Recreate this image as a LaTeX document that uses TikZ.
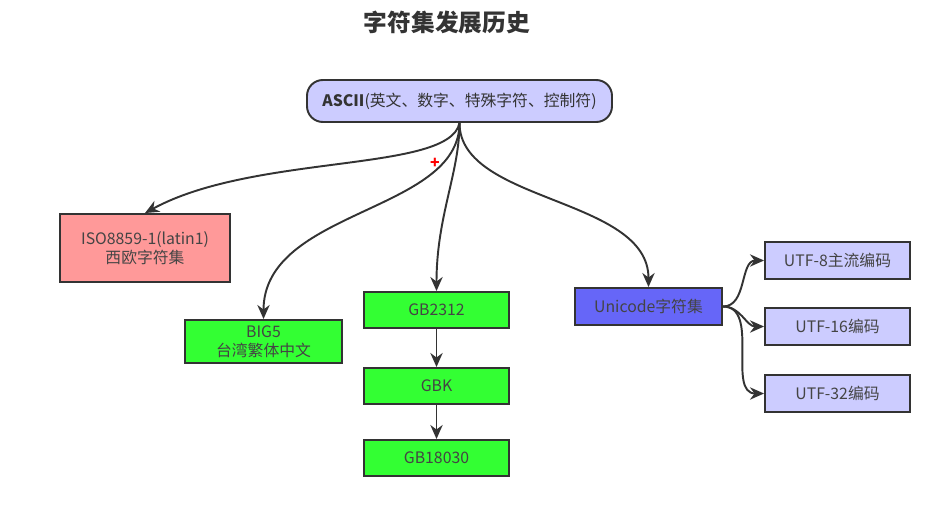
\documentclass[tikz,border=0pt]{standalone}
\usepackage{fontspec}
\setmainfont{Noto Sans CJK SC}
\usepackage{tikz}
\usetikzlibrary{positioning,arrows.meta}
\usepackage{xcolor}
\definecolor{setlav}{HTML}{CCCCFF}
\definecolor{setpink}{HTML}{FF9999}
\definecolor{setgreen}{HTML}{33FF33}
\definecolor{setblue}{HTML}{6666F8}
\definecolor{setline}{HTML}{333333}
\definecolor{settext}{HTML}{444444}

\begin{document}
\begin{tikzpicture}[
    box/.style={draw=setline, line width=1.1pt, fill=#1, minimum width=2.9cm, minimum height=0.72cm, align=center, font=\fontsize{9}{11}\selectfont, text=settext, inner sep=3pt},
    link/.style={-{Stealth[length=8pt,width=7pt]}, line width=1.1pt, draw=setline},
]
\useasboundingbox (0,0) rectangle (19,-10.16);

\node[font=\fontsize{13.5}{16}\selectfont\bfseries, text=setline] (title) at (8.94,-0.44) {字符集发展历史};

\node[box=setlav, rounded corners=9pt, minimum width=6.1cm, minimum height=0.84cm, text=setline] (ascii) at (9.19,-2.02) {\textbf{ASCII}(英文、数字、特殊字符、控制符)};

\node[box=setpink, minimum width=3.4cm, minimum height=1.36cm] (iso) at (2.9,-4.96) {ISO8859-1(latin1)\\西欧字符集};
\node[box=setgreen, minimum width=3.14cm, minimum height=0.86cm, inner sep=1pt] (big5) at (5.27,-6.83) {BIG5\\台湾繁体中文};
\node[box=setgreen] (gb2312) at (8.73,-6.2) {GB2312};
\node[box=setgreen] (gbk) at (8.73,-7.72) {GBK};
\node[box=setgreen] (gb18030) at (8.73,-9.16) {GB18030};

\node[box=setblue, minimum width=2.94cm, minimum height=0.74cm] (unicode) at (12.97,-6.13) {Unicode字符集};
\node[box=setlav, minimum height=0.74cm] (utf8) at (16.75,-5.21) {UTF-8主流编码};
\node[box=setlav, minimum height=0.74cm] (utf16) at (16.75,-6.53) {UTF-16编码};
\node[box=setlav, minimum height=0.74cm] (utf32) at (16.75,-7.87) {UTF-32编码};

\node[text=red, font=\fontsize{9}{9}\selectfont\bfseries, inner sep=0pt] (cursor) at (8.7,-3.26) {+};

% from ascii down to the sets
\draw[link] (ascii.south) .. controls +(-0.2,-1.0) and +(2.2,1.2) .. (iso.north);
\draw[link] (ascii.south) .. controls +(0,-1.8) and +(0,2.2) .. (big5.north);
\draw[link] (ascii.south) .. controls +(0,-1) and +(0,1.5) .. (gb2312.north);
\draw[link] (ascii.south) .. controls +(0,-1.6) and +(0,1.8) .. (unicode.north);

\draw[link] (gb2312) -- (gbk);
\draw[link] (gbk) -- (gb18030);

\foreach \n in {utf8,utf16,utf32} {
    \draw[link] (unicode.east) to[out=0,in=180] (\n.west);
}
\end{tikzpicture}
\end{document}
